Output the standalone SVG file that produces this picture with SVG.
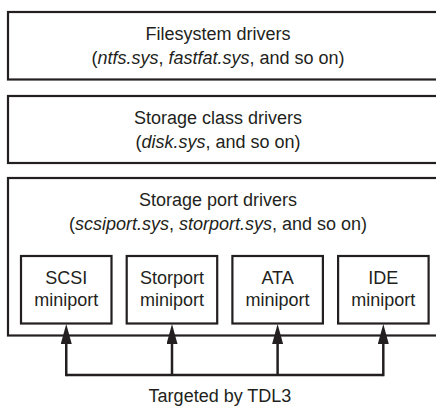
<svg xmlns="http://www.w3.org/2000/svg" width="436" height="408" viewBox="0 0 436 408">
<style>
.box{fill:#fff;stroke:#231f20;stroke-width:2.2}
.t{font-family:"Liberation Sans",Arial,sans-serif;font-size:18px;fill:#231f20;text-anchor:middle}
.i{font-style:italic}
.c{fill:none;stroke:#231f20;stroke-width:2.5}
</style>
<defs>
<marker id="ah" markerUnits="userSpaceOnUse" markerWidth="21" markerHeight="12" refX="0" refY="5.5" orient="auto" viewBox="0 0 21 12">
<path d="M0,0 L20,5.5 L0,11 Z" fill="#231f20"/>
</marker>
</defs>
<rect width="436" height="408" fill="#fff"/>
<g id="filesystem">
<rect class="box" x="8" y="12" width="436" height="67.5"/>
<text class="t" x="218" y="40">Filesystem drivers</text>
<text class="t" x="218" y="63.5">(<tspan class="i">ntfs.sys</tspan>, <tspan class="i">fastfat.sys</tspan>, and so on)</text>
</g>
<g id="storage-class">
<rect class="box" x="8" y="96" width="436" height="67"/>
<text class="t" x="218" y="124">Storage class drivers</text>
<text class="t" x="218" y="147.5">(<tspan class="i">disk.sys</tspan>, and so on)</text>
</g>
<g id="storage-port">
<rect class="box" x="8" y="178" width="436" height="157.5"/>
<text class="t" x="218" y="206">Storage port drivers</text>
<text class="t" x="218" y="230">(<tspan class="i">scsiport.sys</tspan>, <tspan class="i">storport.sys</tspan>, and so on)</text>
</g>
<g id="scsi">
<rect class="box" x="21" y="256" width="90.5" height="67.5"/>
<text class="t" x="66.25" y="283.5">SCSI</text>
<text class="t" x="66.25" y="306">miniport</text>
</g>
<g id="storport">
<rect class="box" x="126.7" y="256" width="90.5" height="67.5"/>
<text class="t" x="172" y="283.5">Storport</text>
<text class="t" x="172" y="306">miniport</text>
</g>
<g id="ata">
<rect class="box" x="232.4" y="256" width="90.5" height="67.5"/>
<text class="t" x="277.6" y="283.5">ATA</text>
<text class="t" x="277.6" y="306">miniport</text>
</g>
<g id="ide">
<rect class="box" x="338.1" y="256" width="90.5" height="67.5"/>
<text class="t" x="383.3" y="283.5">IDE</text>
<text class="t" x="383.3" y="306">miniport</text>
</g>
<g id="connectors">
<path class="c" d="M66.25,375 H383.3"/>
<path class="c" d="M66.25,376.2 V344" marker-end="url(#ah)"/>
<path class="c" d="M172,375 V344" marker-end="url(#ah)"/>
<path class="c" d="M277.6,375 V344" marker-end="url(#ah)"/>
<path class="c" d="M383.3,376.2 V344" marker-end="url(#ah)"/>
</g>
<g id="label">
<text class="t" x="220" y="402">Targeted by TDL3</text>
</g>
</svg>
